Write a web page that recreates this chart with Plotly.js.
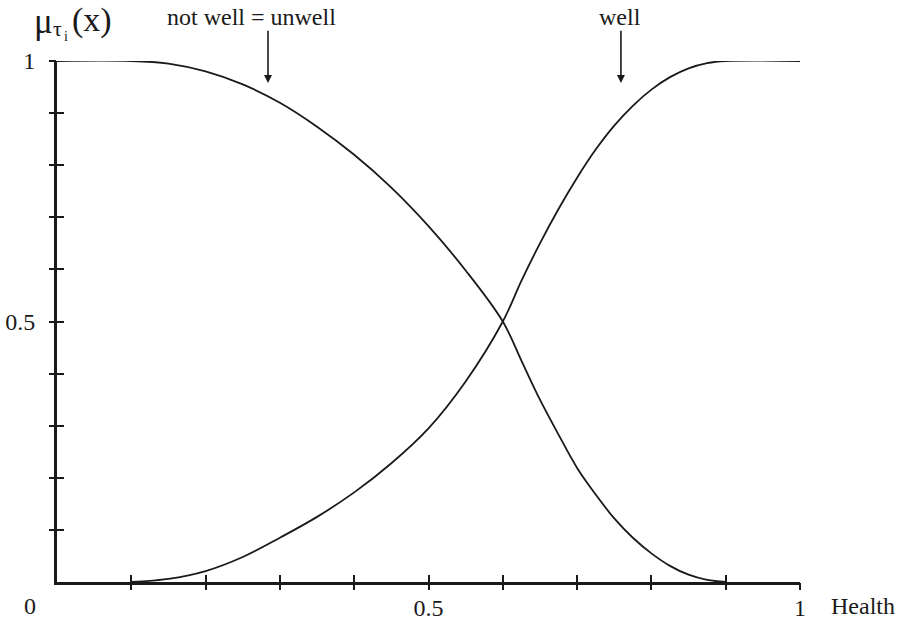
<!DOCTYPE html>
<html>
<head>
<meta charset="utf-8">
<script src="https://cdn.plot.ly/plotly-3.0.1.min.js"></script>
<style>html,body{margin:0;padding:0;background:#fff;}#chart{width:905px;height:624px;}</style>
</head>
<body>
<div id="chart"></div>
<script>
// Membership function "not well = unwell"
const unwellX = [0, 0.1, 0.15, 0.2, 0.25, 0.3, 0.35, 0.4, 0.45, 0.5, 0.55, 0.6, 0.625, 0.65, 0.675, 0.7, 0.725, 0.75, 0.775, 0.8, 0.825, 0.85, 0.875, 0.9];
const unwellY = [1, 1, 0.995, 0.98, 0.955, 0.92, 0.874, 0.82, 0.757, 0.683, 0.598, 0.5, 0.425, 0.35, 0.283, 0.219, 0.168, 0.122, 0.085, 0.055, 0.031, 0.014, 0.004, 0];
// Membership function "well"
const wellX = [0.1, 0.15, 0.2, 0.25, 0.3, 0.35, 0.4, 0.45, 0.5, 0.55, 0.6, 0.625, 0.65, 0.675, 0.7, 0.725, 0.75, 0.775, 0.8, 0.825, 0.85, 0.875, 0.9, 1];
const wellY = [0, 0.006, 0.021, 0.048, 0.085, 0.125, 0.172, 0.228, 0.295, 0.385, 0.5, 0.578, 0.65, 0.716, 0.776, 0.83, 0.876, 0.914, 0.945, 0.969, 0.986, 0.996, 1, 1];
// Ticks and labels
const tickVals = [0.1, 0.2, 0.3, 0.4, 0.5, 0.6, 0.7, 0.8, 0.9, 1];
const xTickText = ['', '', '', '', '0.5', '', '', '', '', '1'];
const yTickText = ['', '', '', '', '0.5', '', '', '', '', '1'];
const curveLabels = ['not well = unwell', 'well'];
const curveLabelX = [0.262, 0.758];
const arrowX = [0.284, 0.759];
const originLabel = '0';
const xAxisTitle = 'Health';

const serif = 'Liberation Serif, Times New Roman, serif';
const ink = '#1a1a1a';

const traces = [
  {x: unwellX, y: unwellY, mode: 'lines', line: {color: ink, width: 1.8, shape: 'spline', smoothing: 1}, hoverinfo: 'skip'},
  {x: wellX, y: wellY, mode: 'lines', line: {color: ink, width: 1.8, shape: 'spline', smoothing: 1}, hoverinfo: 'skip'},
  {x: [0.5], y: [0.5], xaxis: 'x2', yaxis: 'y2', mode: 'markers', marker: {opacity: 0}, hoverinfo: 'skip'}
];

const ann = [];
curveLabels.forEach((t, i) => {
  ann.push({x: curveLabelX[i], y: 1.085, xref: 'paper', yref: 'paper', text: t, showarrow: false,
    font: {family: serif, size: 24, color: ink}, xanchor: 'center', yanchor: 'middle'});
  ann.push({x: arrowX[i], y: 0.958, ax: arrowX[i], ay: 1.061, xref: 'x', yref: 'y', axref: 'x', ayref: 'y',
    text: '', showarrow: true, arrowhead: 2, arrowsize: 1, arrowwidth: 1.6, arrowcolor: ink});
});
ann.push({x: -0.036, y: -0.047, xref: 'paper', yref: 'paper', text: originLabel, showarrow: false,
  font: {family: serif, size: 24, color: ink}, xanchor: 'center', yanchor: 'middle'});
ann.push({x: 1.085, y: -0.047, xref: 'paper', yref: 'paper', text: xAxisTitle, showarrow: false,
  font: {family: serif, size: 24, color: ink}, xanchor: 'center', yanchor: 'middle'});

// y-axis title pieces: μ_{τ_i}(x), positions in page pixels
const titlePieces = [
  {text: 'μ', px: 32, py: 22, size: 35},
  {text: 'τ', px: 51, py: 28, size: 22},
  {text: 'i', px: 62, py: 36, size: 14},
  {text: '(x)', px: 70, py: 20, size: 34}
];
titlePieces.forEach(p => {
  ann.push({text: p.text, showarrow: false, xref: 'paper', yref: 'paper',
    x: (p.px - 57) / 743, y: (582 - p.py) / 521, xanchor: 'left', yanchor: 'middle',
    font: {family: serif, size: p.size, color: ink}});
});

const layout = {
  width: 905, height: 624,
  margin: {l: 57, r: 105, t: 61, b: 42},
  paper_bgcolor: '#fff', plot_bgcolor: '#fff',
  showlegend: false,
  xaxis: {range: [0, 1], tickvals: tickVals, ticktext: xTickText, ticks: 'inside', ticklen: 7, tickwidth: 2, tickcolor: ink,
    showline: true, linewidth: 3, linecolor: ink, showgrid: false, zeroline: false, fixedrange: true,
    tickfont: {family: serif, size: 24, color: ink}, ticklabelstandoff: 2},
  yaxis: {range: [0, 1], tickvals: tickVals, ticktext: yTickText, ticks: 'inside', ticklen: 7, tickwidth: 2, tickcolor: ink,
    showline: true, linewidth: 3, linecolor: ink, showgrid: false, zeroline: false, fixedrange: true,
    tickfont: {family: serif, size: 24, color: ink}, ticklabelstandoff: 14},
  xaxis2: {range: [0, 1], overlaying: 'x', anchor: 'y2', side: 'bottom', tickvals: tickVals, ticks: 'outside', ticklen: 7, tickwidth: 2, tickcolor: ink,
    showticklabels: false, showline: false, showgrid: false, zeroline: false, fixedrange: true},
  yaxis2: {range: [0, 1], overlaying: 'y', anchor: 'x2', side: 'left', tickvals: tickVals, ticks: 'outside', ticklen: 7, tickwidth: 2, tickcolor: ink,
    showticklabels: false, showline: false, showgrid: false, zeroline: false, fixedrange: true},
  annotations: ann
};

Plotly.newPlot('chart', traces, layout, {displayModeBar: false, staticPlot: true});
</script>
</body>
</html>
